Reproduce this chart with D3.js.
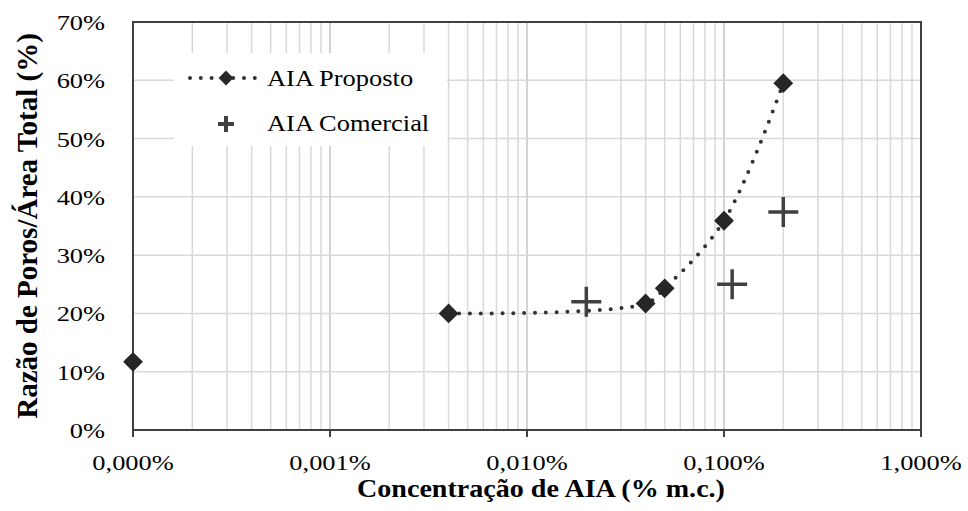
<!DOCTYPE html>
<html>
<head>
<meta charset="utf-8">
<script src="https://cdn.jsdelivr.net/npm/d3@7"></script>
<style>
  body { margin: 0; background: #fff; }
  svg { display: block; font-family: "Liberation Serif", "Times New Roman", serif; }
  .gridMinor { stroke: #d9d9d9; stroke-width: 1.5; }
  .gridMajor { stroke: #c4c4c4; stroke-width: 1.5; }
  .tickLabel { font-size: 22px; fill: #000; }
  .axisTitle { font-weight: bold; fill: #000; }
  .legendText { font-size: 23px; fill: #000; }
</style>
</head>
<body>
<div id="chart"></div>
<script>
// AIA proposto (% m.c. vs pore ratio %)
const propostoX = [0.0001, 0.004, 0.04, 0.05, 0.1, 0.2];
const propostoY = [11.7, 20.0, 21.7, 24.3, 35.9, 59.5];
// AIA comercial
const comercialX = [0.02, 0.11, 0.2];
const comercialY = [22.0, 25.0, 37.4];

const xTicks = [0.0001, 0.001, 0.01, 0.1, 1];
const yTicks = [0, 10, 20, 30, 40, 50, 60, 70];
const seriesNames = ["AIA Proposto", "AIA Comercial"];

const width = 968, height = 511;
const margin = {top: 22, right: 47, bottom: 81, left: 133};

const svg = d3.select("#chart").append("svg")
    .attr("width", width)
    .attr("height", height);

const xScale = d3.scaleLog()
    .domain([0.0001, 1])
    .range([margin.left, width - margin.right]);
const yScale = d3.scaleLinear()
    .domain([0, 70])
    .range([height - margin.bottom, margin.top]);

const fmtX = d => d3.format(".3f")(d).replace(".", ",") + "%";

// vertical grid, every 1..9 of each decade
let minor = [];
for (let e = -4; e < 0; e++) {
    for (let k = 2; k <= 9; k++) minor.push(k * Math.pow(10, e));
}
svg.append("g").selectAll("line")
    .data(minor)
    .enter().append("line")
    .attr("class", "gridMinor")
    .attr("x1", d => xScale(d)).attr("x2", d => xScale(d))
    .attr("y1", yScale(70)).attr("y2", yScale(0));

svg.append("g").selectAll("line")
    .data(xTicks)
    .enter().append("line")
    .attr("class", "gridMajor")
    .attr("x1", d => xScale(d)).attr("x2", d => xScale(d))
    .attr("y1", yScale(70)).attr("y2", yScale(0));

// horizontal grid
svg.append("g").selectAll("line")
    .data(yTicks)
    .enter().append("line")
    .attr("class", "gridMinor")
    .attr("x1", xScale(0.0001)).attr("x2", xScale(1))
    .attr("y1", d => yScale(d)).attr("y2", d => yScale(d));

// plot frame
svg.append("rect")
    .attr("x", xScale(0.0001))
    .attr("y", yScale(70))
    .attr("width", xScale(1) - xScale(0.0001))
    .attr("height", yScale(0) - yScale(70))
    .attr("fill", "none")
    .attr("stroke", "#404040")
    .attr("stroke-width", 2);

// x ticks + labels
svg.append("g").selectAll("line")
    .data(xTicks)
    .enter().append("line")
    .attr("x1", d => xScale(d)).attr("x2", d => xScale(d))
    .attr("y1", yScale(0)).attr("y2", yScale(0) + 7)
    .attr("stroke", "#404040")
    .attr("stroke-width", 2);

svg.append("g").selectAll("text")
    .data(xTicks)
    .enter().append("text")
    .attr("class", "tickLabel")
    .attr("text-anchor", "middle")
    .attr("transform", d => "translate(" + xScale(d) + "," + (yScale(0) + 40) + ") scale(1.2,1)")
    .text(fmtX);

// y labels
svg.append("g").selectAll("text")
    .data(yTicks)
    .enter().append("text")
    .attr("class", "tickLabel")
    .attr("text-anchor", "end")
    .attr("transform", d => "translate(" + (margin.left - 28) + "," + (yScale(d) + 8) + ") scale(1.2,1)")
    .text(d => d + "%");

// axis titles
svg.append("text")
    .attr("class", "axisTitle")
    .attr("text-anchor", "middle")
    .style("font-size", "26px")
    .attr("transform", "translate(541,497) scale(1.08,1)")
    .text("Concentração de AIA (% m.c.)");

svg.append("text")
    .attr("class", "axisTitle")
    .attr("text-anchor", "middle")
    .style("font-size", "29px")
    .attr("transform", "translate(37," + ((yScale(0) + yScale(70)) / 2) + ") rotate(-90)")
    .text("Razão de Poros/Área Total (%)");

// smoothed dotted line (0 % sample is not joined)
let lineData = propostoX.map((x, i) => [x, propostoY[i]]).slice(1);
let line = d3.line()
    .x(d => xScale(d[0]))
    .y(d => yScale(d[1]))
    .curve(d3.curveCatmullRom.alpha(0.5));

svg.append("path")
    .datum(lineData)
    .attr("d", line)
    .attr("fill", "none")
    .attr("stroke", "#333")
    .attr("stroke-width", 4)
    .attr("stroke-linecap", "round")
    .attr("stroke-dasharray", "0 10.8");

let diamond = d3.symbol().type(d3.symbolSquare).size(196);
let plus = 15;

svg.append("g").selectAll("path")
    .data(propostoX.map((x, i) => [x, propostoY[i]]))
    .enter().append("path")
    .attr("d", diamond)
    .attr("transform", d => "translate(" + xScale(d[0]) + "," + yScale(d[1]) + ") rotate(45)")
    .attr("fill", "#262626");

let crosses = svg.append("g").selectAll("g")
    .data(comercialX.map((x, i) => [x, comercialY[i]]))
    .enter().append("g")
    .attr("transform", d => "translate(" + xScale(d[0]) + "," + yScale(d[1]) + ")");
crosses.append("path")
    .attr("d", "M" + (-plus) + ",0H" + plus + "M0," + (-plus) + "V" + plus)
    .attr("stroke", "#404040")
    .attr("stroke-width", 3.5);

// legend
let legend = svg.append("g");
legend.append("rect")
    .attr("x", 174).attr("y", 53)
    .attr("width", 273).attr("height", 93)
    .attr("fill", "#fff");

legend.append("line")
    .attr("x1", 190).attr("x2", 258)
    .attr("y1", 78).attr("y2", 78)
    .attr("stroke", "#333")
    .attr("stroke-width", 4)
    .attr("stroke-linecap", "round")
    .attr("stroke-dasharray", "0 10.8");
legend.append("path")
    .attr("d", d3.symbol().type(d3.symbolSquare).size(110))
    .attr("transform", "translate(226,78) rotate(45)")
    .attr("fill", "#262626");
legend.append("path")
    .attr("d", "M218,124H234M226,116V132")
    .attr("stroke", "#404040")
    .attr("stroke-width", 4);

legend.selectAll("text")
    .data(seriesNames)
    .enter().append("text")
    .attr("class", "legendText")
    .attr("transform", (d, i) => "translate(267," + (86 + i * 45) + ") scale(1.15,1)")
    .text(d => d);
</script>
</body>
</html>
